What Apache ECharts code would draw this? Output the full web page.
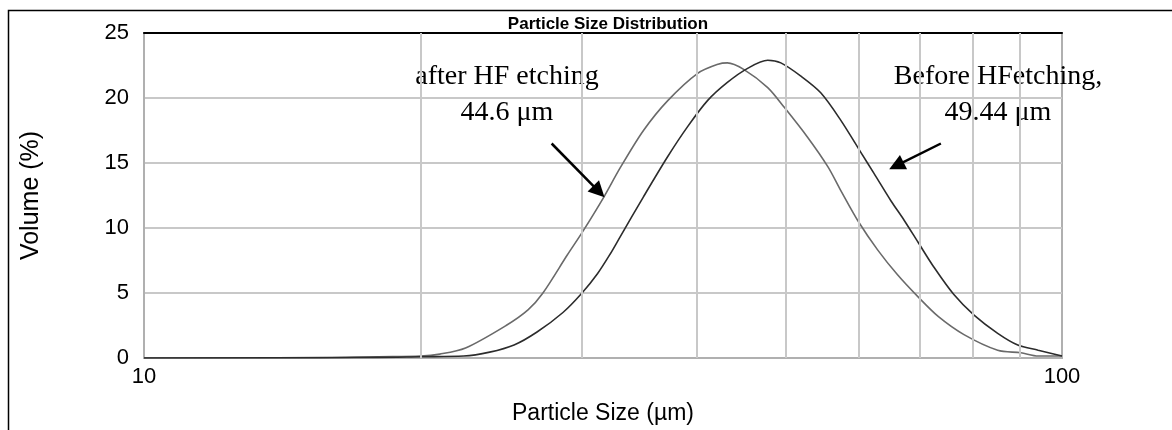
<!DOCTYPE html>
<html>
<head>
<meta charset="utf-8">
<title>Particle Size Distribution</title>
<script src="https://cdn.jsdelivr.net/npm/echarts@6/dist/echarts.min.js"></script>
<style>
  html, body { margin: 0; padding: 0; background: #fff; }
  #chart { width: 1172px; height: 430px; }
</style>
</head>
<body>
<div id="chart"></div>
<script>
// particle size (um) and volume (%)
var sizesAfter = [10, 15, 18, 20, 21, 22.4, 24.8, 26.2, 27.2, 28.9, 30.1, 31.7, 33.0, 35.0, 37.2, 40.1, 42.2, 43.2, 45.0, 47.8, 49.8, 52.8, 55.6, 57.4, 60.0, 63.0, 66.2, 69.7, 73.3, 78.2, 85.1, 90.2, 94.2, 100];
var volAfter   = [0, 0, 0.1, 0.15, 0.3, 0.77, 2.5, 3.7, 5.0, 7.9, 9.8, 12.4, 14.6, 17.5, 19.8, 21.9, 22.6, 22.7, 22.2, 20.8, 19.3, 17.0, 14.7, 12.9, 10.5, 8.3, 6.4, 4.7, 3.2, 1.8, 0.6, 0.4, 0.15, 0.15];

var sizesBefore = [10, 18, 20, 22.3, 23.8, 25.3, 26.8, 28.6, 30.0, 31.2, 32.2, 33.0, 35.0, 37.2, 39.1, 41.1, 43.2, 45.5, 47.8, 49.4, 51.9, 54.6, 57.4, 60.4, 62.4, 65.1, 67.3, 69.7, 72.5, 76.2, 80.2, 85.1, 89.5, 94.2, 100];
var volBefore   = [0, 0.05, 0.1, 0.15, 0.45, 1.0, 2.0, 3.5, 5.0, 6.5, 8.0, 9.3, 12.4, 15.5, 17.8, 19.8, 21.2, 22.3, 22.9, 22.7, 21.7, 20.4, 18.3, 15.8, 14.2, 12.1, 10.6, 8.9, 7.0, 4.9, 3.3, 1.9, 1.0, 0.6, 0.15];

var minorGrid = [20, 30, 40, 50, 60, 70, 80, 90];
var yTicks = [0, 5, 10, 15, 20, 25];

// arrows: [from, to] in data coords
var arrowAfter  = [[27.8, 16.5], [31.3, 12.8]];
var arrowBefore = [[73.8, 16.5], [66.0, 14.8]];

function pairs(xs, ys) {
  var out = [];
  for (var i = 0; i < xs.length; i++) out.push([xs[i], ys[i]]);
  return out;
}

var chart = echarts.init(document.getElementById('chart'), null, { renderer: 'canvas' });

var sans = '"Liberation Sans", Arial, sans-serif';
var serif = '"Liberation Serif", "Times New Roman", serif';
var gridColor = '#c8c8c8';

var arrowMark = function (pts) {
  return {
    silent: true,
    symbol: ['none', 'triangle'],
    symbolSize: 16,
    label: { show: false },
    lineStyle: { color: '#000', width: 2.5, type: 'solid' },
    itemStyle: { color: '#000' },
    data: [[{ coord: pts[0] }, { coord: pts[1] }]]
  };
};

var option = {
  backgroundColor: '#fff',
  animation: false,
  title: {
    text: 'Particle Size Distribution',
    left: 603,
    textAlign: 'center',
    top: 11,
    textStyle: { fontFamily: sans, fontSize: 17, fontWeight: 'bold', color: '#000' }
  },
  grid: {
    left: 144, right: 110, top: 33, bottom: 72,
    show: true, borderColor: '#b0b0b0', borderWidth: 2, backgroundColor: '#fff'
  },
  xAxis: [{
    type: 'log',
    logBase: 10,
    min: 10,
    max: 100,
    name: 'Particle Size (µm)',
    nameLocation: 'middle',
    nameGap: 44,
    nameTextStyle: { fontFamily: sans, fontSize: 23, color: '#000' },
    axisLine: { show: true, lineStyle: { color: '#b0b0b0', width: 2 } },
    axisTick: { show: false },
    axisLabel: { fontFamily: sans, fontSize: 22, color: '#000', margin: 8 },
    splitLine: { show: false }
  }, {
    type: 'log',
    logBase: 10,
    min: 10,
    max: 100,
    position: 'top',
    axisLine: { show: true, lineStyle: { color: '#000', width: 2 } },
    axisTick: { show: false },
    axisLabel: { show: false },
    splitLine: { show: false }
  }],
  yAxis: {
    type: 'value',
    min: yTicks[0],
    max: yTicks[yTicks.length - 1],
    interval: 5,
    name: 'Volume (%)',
    nameLocation: 'middle',
    nameGap: 100,
    nameTextStyle: { fontFamily: sans, fontSize: 25, color: '#000' },
    axisLine: { show: true, lineStyle: { color: '#b0b0b0', width: 2 } },
    axisTick: { show: false },
    axisLabel: { fontFamily: sans, fontSize: 22, color: '#000', margin: 15 },
    splitLine: { show: true, lineStyle: { color: gridColor, width: 2 } }
  },
  series: [
    {
      // vertical grid lines at the minor log steps
      type: 'line',
      data: [],
      z: 1,
      silent: true,
      markLine: {
        silent: true,
        symbol: ['none', 'none'],
        label: { show: false },
        lineStyle: { color: gridColor, width: 2, type: 'solid' },
        data: minorGrid.map(function (v) { return { xAxis: v }; })
      }
    },
    {
      name: 'after HF etching',
      type: 'line',
      data: pairs(sizesAfter, volAfter),
      showSymbol: false,
      smooth: 0.3,
      z: 3,
      lineStyle: { color: '#6a6a6a', width: 1.6 },
      markLine: arrowMark(arrowAfter)
    },
    {
      name: 'Before HF etching',
      type: 'line',
      data: pairs(sizesBefore, volBefore),
      showSymbol: false,
      smooth: 0.3,
      z: 4,
      lineStyle: { color: '#2c2c2c', width: 1.6 },
      markLine: arrowMark(arrowBefore)
    }
  ],
  graphic: [
    {
      type: 'rect',
      silent: true,
      shape: { x: 8.5, y: 10.5, width: 1300, height: 600 },
      style: { fill: 'none', stroke: '#000', lineWidth: 1.5 }
    },
    {
      type: 'text',
      x: 507, y: 95,
      style: {
        text: 'after HF etching\n44.6 μm',
        font: '28px ' + serif,
        fill: '#000',
        textAlign: 'center',
        textVerticalAlign: 'middle',
        lineHeight: 36
      }
    },
    {
      type: 'text',
      x: 998, y: 95,
      style: {
        text: 'Before HFetching,\n49.44 μm',
        font: '28px ' + serif,
        fill: '#000',
        textAlign: 'center',
        textVerticalAlign: 'middle',
        lineHeight: 36
      }
    }
  ]
};

chart.setOption(option);
</script>
</body>
</html>
